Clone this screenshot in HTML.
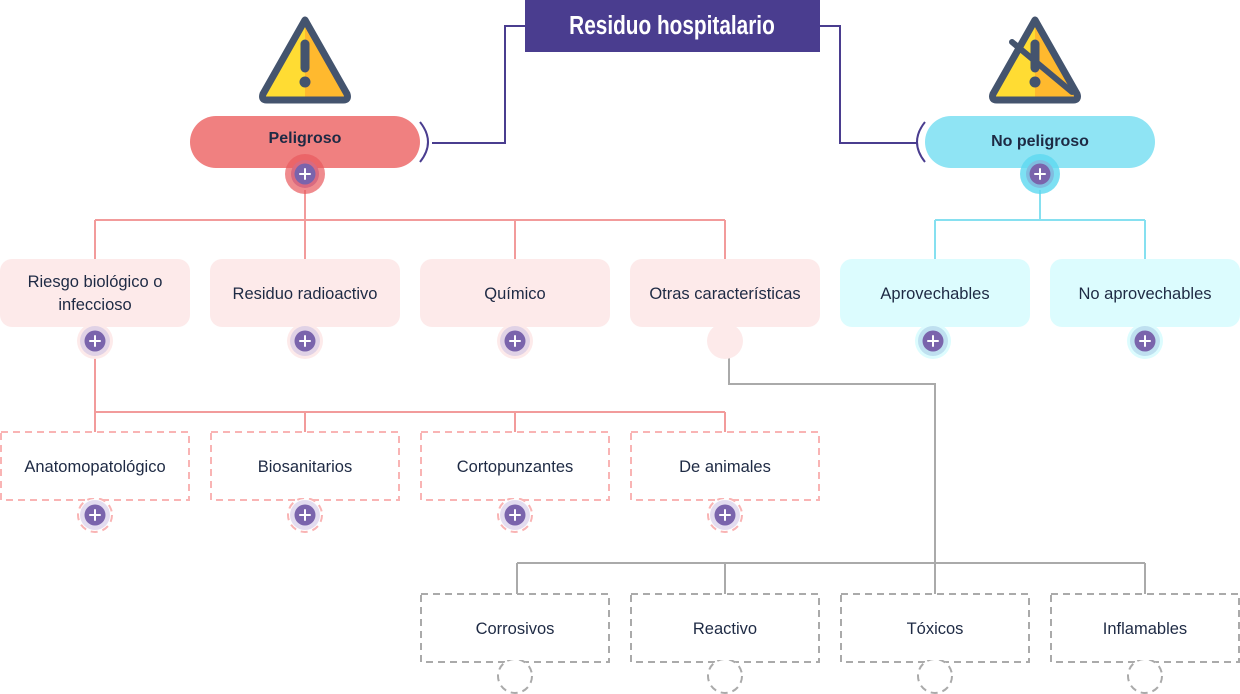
<!DOCTYPE html>
<html><head><meta charset="utf-8"><style>
html,body{margin:0;padding:0;background:#fff;width:1240px;height:694px;overflow:hidden}
svg{display:block}
text{font-family:"Liberation Sans",sans-serif;fill:#1e2a44}
</style></head><body>
<svg width="1240" height="694" viewBox="0 0 1240 694">
<defs>
<g id="plusP"><circle r="10.5" fill="#7a64ac"/><path d="M-5 0H5M0 -5V5" stroke="#fff" stroke-width="2" stroke-linecap="round"/></g>
<g id="warn">
<path d="M0 -36 L-42 38 Q-44 44 -38 44 L38 44 Q44 44 42 38 Z" fill="#ffdc33"/>
<path d="M0 -33 L41 39 Q42 41 38 41 L0 41 Z" fill="#ffb92e"/>
<path d="M0 -36 L-42 38 Q-44 44 -38 44 L38 44 Q44 44 42 38 Z" fill="none" stroke="#44546e" stroke-width="7" stroke-linejoin="round"/>
<line x1="0" y1="-12" x2="0" y2="12" stroke="#44546e" stroke-width="9" stroke-linecap="round"/>
<circle cx="0" cy="26" r="5.5" fill="#44546e"/>
</g>
</defs>

<path d="M525 26H505V143H432" fill="none" stroke="#4a3d8f" stroke-width="2"/>
<path d="M820 26H840V143H918" fill="none" stroke="#4a3d8f" stroke-width="2"/>
<path d="M420 122 Q436 142 420 162" fill="none" stroke="#4a3d8f" stroke-width="2"/>
<path d="M925 122 Q909 142 925 162" fill="none" stroke="#4a3d8f" stroke-width="2"/>
<rect x="525" y="0" width="295" height="52" fill="#4a3d8f"/>
<text x="672" y="34" text-anchor="middle" font-size="26" font-weight="bold" style="fill:#fff" transform="translate(672 0) scale(0.8 1) translate(-672 0)">Residuo hospitalario</text>

<use href="#warn" transform="translate(305 56)"/>
<use href="#warn" transform="translate(1035 56)"/>
<line x1="1012" y1="42" x2="1072" y2="92" stroke="#44546e" stroke-width="6" stroke-linecap="round"/>

<g stroke="#f29b9b" stroke-width="2" fill="none">
<path d="M305 190V220M95 220H725M95 220V259M305 220V259M515 220V259M725 220V259"/>
<path d="M95 358V412M95 412H725M95 412V432M305 412V432M515 412V432M725 412V432"/>
</g>
<path d="M1040 190V220M935 220H1145M935 220V259M1145 220V259" stroke="#86e0f0" stroke-width="2" fill="none"/>
<path d="M729 358V384H935V563M517 563H1145M517 563V594M725 563V594M935 563V594M1145 563V594" stroke="#aaaaaa" stroke-width="2" fill="none"/>

<rect x="190" y="116" width="230" height="52" rx="26" fill="#f08080"/>
<text x="305" y="143" text-anchor="middle" font-size="16" font-weight="bold">Peligroso</text>
<rect x="925" y="116" width="230" height="52" rx="26" fill="#8fe4f4"/>
<text x="1040" y="146" text-anchor="middle" font-size="16" font-weight="bold">No peligroso</text>
<circle cx="305" cy="174" r="20" fill="#e85a5e" opacity="0.7"/>
<circle cx="305" cy="174" r="14" fill="#d96a80"/>
<use href="#plusP" transform="translate(305 174)"/>
<circle cx="1040" cy="174" r="20" fill="#5cd8f0" opacity="0.8"/>
<circle cx="1040" cy="174" r="14" fill="#80bde0"/>
<use href="#plusP" transform="translate(1040 174)"/>

<g font-size="16.5">
<rect x="0" y="259" width="190" height="68" rx="12" fill="#fdeaea"/>
<text x="95" y="287" text-anchor="middle">Riesgo biológico o</text>
<text x="95" y="310" text-anchor="middle">infeccioso</text>
<rect x="210" y="259" width="190" height="68" rx="12" fill="#fdeaea"/>
<text x="305" y="299" text-anchor="middle">Residuo radioactivo</text>
<rect x="420" y="259" width="190" height="68" rx="12" fill="#fdeaea"/>
<text x="515" y="299" text-anchor="middle">Químico</text>
<rect x="630" y="259" width="190" height="68" rx="12" fill="#fdeaea"/>
<text x="725" y="299" text-anchor="middle">Otras características</text>
<rect x="840" y="259" width="190" height="68" rx="12" fill="#dcfcfe"/>
<text x="935" y="299" text-anchor="middle">Aprovechables</text>
<rect x="1050" y="259" width="190" height="68" rx="12" fill="#dcfcfe"/>
<text x="1145" y="299" text-anchor="middle">No aprovechables</text>
</g>
<g>
<circle cx="95" cy="341" r="18" fill="#fdeaea"/><circle cx="95" cy="341" r="15" fill="#e0d2e6"/><use href="#plusP" transform="translate(95 341)"/>
<circle cx="305" cy="341" r="18" fill="#fdeaea"/><circle cx="305" cy="341" r="15" fill="#e0d2e6"/><use href="#plusP" transform="translate(305 341)"/>
<circle cx="515" cy="341" r="18" fill="#fdeaea"/><circle cx="515" cy="341" r="15" fill="#e0d2e6"/><use href="#plusP" transform="translate(515 341)"/>
<circle cx="725" cy="341" r="18" fill="#fdeaea"/>
<circle cx="933" cy="341" r="18" fill="#dcfcfe"/><circle cx="933" cy="341" r="15" fill="#bfe0f0"/><use href="#plusP" transform="translate(933 341)"/>
<circle cx="1145" cy="341" r="18" fill="#dcfcfe"/><circle cx="1145" cy="341" r="15" fill="#bfe0f0"/><use href="#plusP" transform="translate(1145 341)"/>
</g>

<g stroke-dasharray="7 5">
<g fill="#fff" stroke="#f9b4b4" stroke-width="2">
<rect x="1" y="432" width="188" height="68"/>
<rect x="211" y="432" width="188" height="68"/>
<rect x="421" y="432" width="188" height="68"/>
<rect x="631" y="432" width="188" height="68"/>
<circle cx="95" cy="515" r="17"/><circle cx="305" cy="515" r="17"/><circle cx="515" cy="515" r="17"/><circle cx="725" cy="515" r="17"/>
</g>
<g fill="#fff" stroke="#aaaaaa" stroke-width="2">
<rect x="421" y="594" width="188" height="68"/>
<rect x="631" y="594" width="188" height="68"/>
<rect x="841" y="594" width="188" height="68"/>
<rect x="1051" y="594" width="188" height="68"/>
<circle cx="515" cy="676" r="17"/><circle cx="725" cy="676" r="17"/><circle cx="935" cy="676" r="17"/><circle cx="1145" cy="676" r="17"/>
</g>
</g>
<g>
<circle cx="95" cy="515" r="15" fill="#e3dcef"/><use href="#plusP" transform="translate(95 515)"/>
<circle cx="305" cy="515" r="15" fill="#e3dcef"/><use href="#plusP" transform="translate(305 515)"/>
<circle cx="515" cy="515" r="15" fill="#e3dcef"/><use href="#plusP" transform="translate(515 515)"/>
<circle cx="725" cy="515" r="15" fill="#e3dcef"/><use href="#plusP" transform="translate(725 515)"/>
</g>
<g fill="#fff">
<rect x="480" y="603" width="70" height="57"/><rect x="690" y="603" width="70" height="57"/><rect x="900" y="603" width="70" height="57"/><rect x="1110" y="603" width="70" height="57"/>
<rect x="60" y="441" width="70" height="57"/><rect x="270" y="441" width="70" height="57"/><rect x="480" y="441" width="70" height="57"/><rect x="690" y="441" width="70" height="57"/>
</g>
<g font-size="16.5">
<text x="95" y="472" text-anchor="middle">Anatomopatológico</text>
<text x="305" y="472" text-anchor="middle">Biosanitarios</text>
<text x="515" y="472" text-anchor="middle">Cortopunzantes</text>
<text x="725" y="472" text-anchor="middle">De animales</text>
<text x="515" y="634" text-anchor="middle">Corrosivos</text>
<text x="725" y="634" text-anchor="middle">Reactivo</text>
<text x="935" y="634" text-anchor="middle">Tóxicos</text>
<text x="1145" y="634" text-anchor="middle">Inflamables</text>
</g>
</svg>
</body></html>
